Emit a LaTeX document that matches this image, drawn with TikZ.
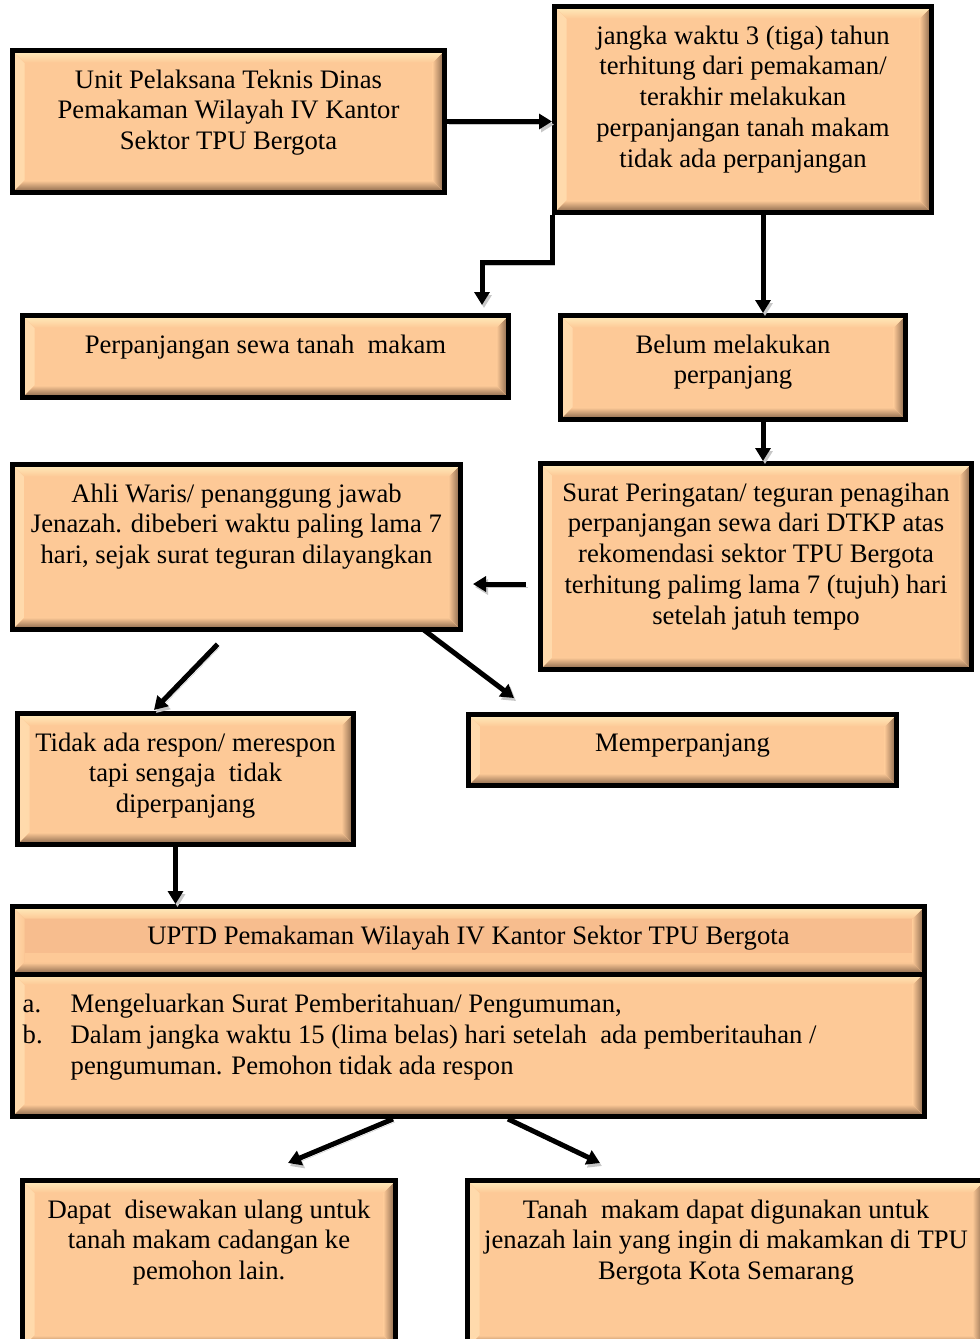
\documentclass[tikz,border=0pt]{standalone}
\usepackage{fontspec}
\setmainfont{Liberation Serif}
\usetikzlibrary{arrows.meta,positioning}

\definecolor{peach}{RGB}{253,201,151}
\definecolor{peachdark}{RGB}{247,189,142}
\definecolor{bevtop}{RGB}{255,238,190}
\definecolor{bevleft}{RGB}{255,218,172}
\definecolor{bevdark}{RGB}{128,96,70}

% bevelled edges inside a box
\newcommand{\boxbevel}{%
  \fill[left color=bevleft, right color=peach]
    (path picture bounding box.north west) -- ([shift={(12pt,-12pt)}]path picture bounding box.north west)
    -- ([shift={(12pt,12pt)}]path picture bounding box.south west) -- (path picture bounding box.south west) -- cycle;
  \fill[left color=peach, right color=bevdark]
    (path picture bounding box.north east) -- ([shift={(-12pt,-12pt)}]path picture bounding box.north east)
    -- ([shift={(-12pt,12pt)}]path picture bounding box.south east) -- (path picture bounding box.south east) -- cycle;
  \fill[top color=bevtop, bottom color=peach]
    (path picture bounding box.north west) -- (path picture bounding box.north east)
    -- ([shift={(-12pt,-12pt)}]path picture bounding box.north east) -- ([shift={(12pt,-12pt)}]path picture bounding box.north west) -- cycle;
  \fill[top color=peach, bottom color=bevdark]
    (path picture bounding box.south west) -- (path picture bounding box.south east)
    -- ([shift={(-12pt,12pt)}]path picture bounding box.south east) -- ([shift={(12pt,12pt)}]path picture bounding box.south west) -- cycle;
}

\begin{document}
\begin{tikzpicture}[
		x=1pt,y=-1pt,
		>={Triangle[width=15pt,length=13pt]},
		every node/.style={font=\fontsize{26.67}{30.7}\selectfont},
		stepbox/.style={draw=black, line width=5pt, fill=peach, inner sep=0pt,
			path picture={\boxbevel}},
		headbox/.style={draw=black, line width=5pt, fill=peachdark, inner sep=0pt,
			path picture={\fill[peach] ([yshift=22pt]path picture bounding box.south west) rectangle (path picture bounding box.south east); \boxbevel}},
		boxtext/.style={align=center, inner sep=0pt},
		arrowline/.style={->, line width=5pt,
			preaction={draw=black!22, transform canvas={shift={(2pt,-3pt)}}}}
		]
		\useasboundingbox (0,0) rectangle (980,1339);
		
		% =========================
		% top: unit and time limit
		% =========================
		\node[stepbox, minimum width=432pt, minimum height=142pt] (unit) at (228.5,121.5) {};
		\node[boxtext, below=21.5pt of unit.north] (unittxt)
		{Unit Pelaksana Teknis Dinas\\Pemakaman Wilayah IV Kantor\\Sektor TPU Bergota};
		
		\node[stepbox, minimum width=377pt, minimum height=206pt] (jangka) at (743,109.5) {};
		\node[boxtext, below=21.5pt of jangka.north] (jangkatxt)
		{jangka waktu 3 (tiga) tahun\\terhitung dari pemakaman/\\terakhir melakukan\\perpanjangan tanah makam\\tidak ada perpanjangan};
		
		\node[stepbox, minimum width=486pt, minimum height=82pt] (sewa) at (265.5,356.5) {};
		\node[boxtext, below=21.5pt of sewa.north] (sewatxt)
		{Perpanjangan sewa tanah\ \ makam};
		
		\node[stepbox, minimum width=345pt, minimum height=104pt] (belum) at (733,367.5) {};
		\node[boxtext, below=21.5pt of belum.north] (belumtxt)
		{Belum melakukan\\perpanjang};
		
		% =========================
		% middle: warning and response
		% =========================
		\node[stepbox, minimum width=448pt, minimum height=165pt] (ahli) at (236.5,547) {};
		\node[boxtext, below=21.5pt of ahli.north] (ahlitxt)
		{Ahli Waris/ penanggung jawab\\Jenazah. dibeberi waktu paling lama 7\\hari, sejak surat teguran dilayangkan};
		
		\node[stepbox, minimum width=431pt, minimum height=206pt] (surat) at (756,566.5) {};
		\node[boxtext, below=21.5pt of surat.north] (surattxt)
		{Surat Peringatan/ teguran penagihan\\perpanjangan sewa dari DTKP atas\\rekomendasi sektor TPU Bergota\\terhitung palimg lama 7 (tujuh) hari\\setelah jatuh tempo};
		
		\node[stepbox, minimum width=336pt, minimum height=131pt] (tidak) at (185.5,779) {};
		\node[boxtext, below=21.5pt of tidak.north] (tidaktxt)
		{Tidak ada respon/ merespon\\tapi sengaja\ \ tidak\\diperpanjang};
		
		\node[stepbox, minimum width=428pt, minimum height=71pt] (memper) at (682.5,750) {};
		\node[boxtext, below=21.5pt of memper.north] (mempertxt) {Memperpanjang};
		
		% =========================
		% bottom: UPTD notice and outcomes
		% =========================
		\node[stepbox, minimum width=912pt, minimum height=144pt] (uptdlist) at (468.5,1044.5) {};
		\node[headbox, minimum width=912pt, minimum height=68pt] (uptd) at (468.5,940.5) {};
		\node[boxtext, below=21.5pt of uptd.north] (uptdtxt)
		{UPTD Pemakaman Wilayah IV Kantor Sektor TPU Bergota};
		\node[inner sep=0pt, below right=21pt and 12.5pt of uptdlist.north west] (uptdlisttxt) {%
			\begin{tabular}{@{}p{48pt}@{}l@{}}
				a. & Mengeluarkan Surat Pemberitahuan/ Pengumuman,\\
				b. & Dalam jangka waktu 15 (lima belas) hari setelah\ \ ada pemberitauhan /\\
				& pengumuman. Pemohon tidak ada respon
			\end{tabular}};
		
		\node[stepbox, minimum width=373pt, minimum height=167pt] (dapat) at (209,1264) {};
		\node[boxtext, below=21.5pt of dapat.north] (dapattxt)
		{Dapat\ \ disewakan ulang untuk\\tanah makam cadangan ke\\pemohon lain.};
		
		\node[stepbox, minimum width=517pt, minimum height=167pt] (tanah) at (726,1264) {};
		\node[boxtext, below=21.5pt of tanah.north] (tanahtxt)
		{Tanah\ \ makam dapat digunakan untuk\\jenazah lain yang ingin di makamkan di TPU\\Bergota Kota Semarang};
		
		% free arrow ends and columns
		\coordinate (sewatip) at (482,305);
		\coordinate (tidaktip) at (154,710);
		\coordinate (mempertip) at (514,698);
		\coordinate (dapattip) at (288,1163);
		\coordinate (tanahtip) at (600,1163);
		\coordinate (colA) at ([xshift=20pt]jangka.south);
		\coordinate (colB) at ([xshift=30pt]belum.south);
		\coordinate (colC) at ([xshift=-10pt]tidak.south);
		\coordinate (rowA) at ([yshift=-17.5pt]surat.west);
		
		% arrows
		\draw[arrowline] (unit.east) -- (unit.east -| jangka.west);
		\draw[arrowline] (jangka.south west) -- ++(0,47.5) -| (sewatip);
		\draw[arrowline] (colA) -- (colA |- belum.north);
		\draw[arrowline] (colB) -- (colB |- surat.north);
		\draw[arrowline, shorten <=12pt, shorten >=10pt] (rowA) -- (rowA -| ahli.east);
		\draw[arrowline, shorten <=17pt] ([xshift=-7pt]ahli.south) -- (tidaktip);
		\draw[arrowline] ([xshift=187.5pt,yshift=2pt]ahli.south) -- (mempertip);
		\draw[arrowline] (colC) -- (colC |- uptd.north);
		\draw[arrowline] ([xshift=-75.5pt]uptdlist.south) -- (dapattip);
		\draw[arrowline] ([xshift=39.5pt]uptdlist.south) -- (tanahtip);
	\end{tikzpicture}
\end{document}
